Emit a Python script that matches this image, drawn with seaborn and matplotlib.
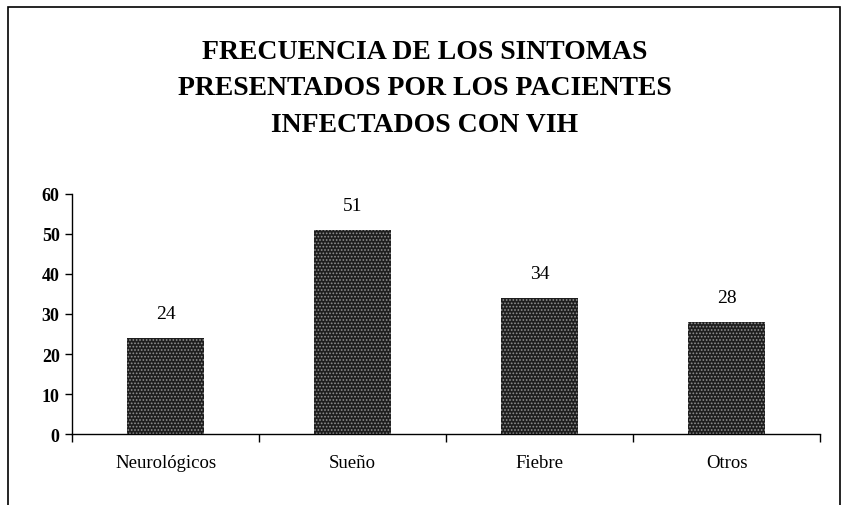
import matplotlib.pyplot as plt
import matplotlib.patches as mpatches
import pandas as pd
import seaborn as sns

# Data
sintomas = ['Neurológicos', 'Sueño', 'Fiebre', 'Otros']
frecuencia = [24, 51, 34, 28]
yticks = [0, 10, 20, 30, 40, 50, 60]

df = pd.DataFrame({'sintoma': sintomas, 'frecuencia': frecuencia})

sns.set_theme(style='white')
plt.rcParams['font.family'] = ['Liberation Serif', 'DejaVu Serif']
plt.rcParams['text.color'] = 'black'
plt.rcParams['xtick.color'] = 'black'
plt.rcParams['ytick.color'] = 'black'
plt.rcParams['hatch.linewidth'] = 0.8

fig = plt.figure(figsize=(8.49, 5.06), dpi=100)
ax = fig.add_axes([0.085, 0.14, 0.881, 0.475])

sns.barplot(data=df, x='sintoma', y='frecuencia', ax=ax, color='#1e1e1e',
            width=0.41, saturation=1)
for p in ax.patches:
    p.set_hatch('.....')
    p.set_edgecolor('#909090')
    p.set_linewidth(0)

# value labels
for i, v in enumerate(frecuencia):
    ax.text(i, v + 4, str(v), ha='center', va='bottom', fontsize=14)

ax.set_xlim(-0.5, len(sintomas) - 0.5)
ax.set_ylim(0, 60)
ax.set_yticks(yticks)
ax.set_yticklabels([str(t) for t in yticks], fontsize=13, fontweight='bold')
ax.set_xlabel('')
ax.set_ylabel('')

# ticks between categories on x axis
ax.set_xticks([i + 0.5 for i in range(-1, len(sintomas))], minor=True)
ax.set_xticks(range(len(sintomas)))
ax.set_xticklabels(sintomas, fontsize=13.5)
ax.tick_params(axis='x', which='major', length=0, pad=14)
ax.tick_params(axis='x', which='minor', length=6, width=1, color='black',
               direction='out', bottom=True)
ax.tick_params(axis='y', length=5, width=1, color='black', direction='out',
               left=True, pad=4)

sns.despine(ax=ax)
for s in ['left', 'bottom']:
    ax.spines[s].set_color('black')
    ax.spines[s].set_linewidth(1)

fig.suptitle('FRECUENCIA DE LOS SINTOMAS\nPRESENTADOS POR LOS PACIENTES\nINFECTADOS CON VIH',
             fontsize=20, fontweight='bold', y=0.92, linespacing=1.58, color='black')

# outer frame (open at the bottom)
frame = mpatches.Rectangle((0.0095, -0.1), 0.980, 1.084, transform=fig.transFigure,
                           fill=False, edgecolor='black', linewidth=1.2)
fig.patches.append(frame)

fig.savefig('out.png', dpi=100)
